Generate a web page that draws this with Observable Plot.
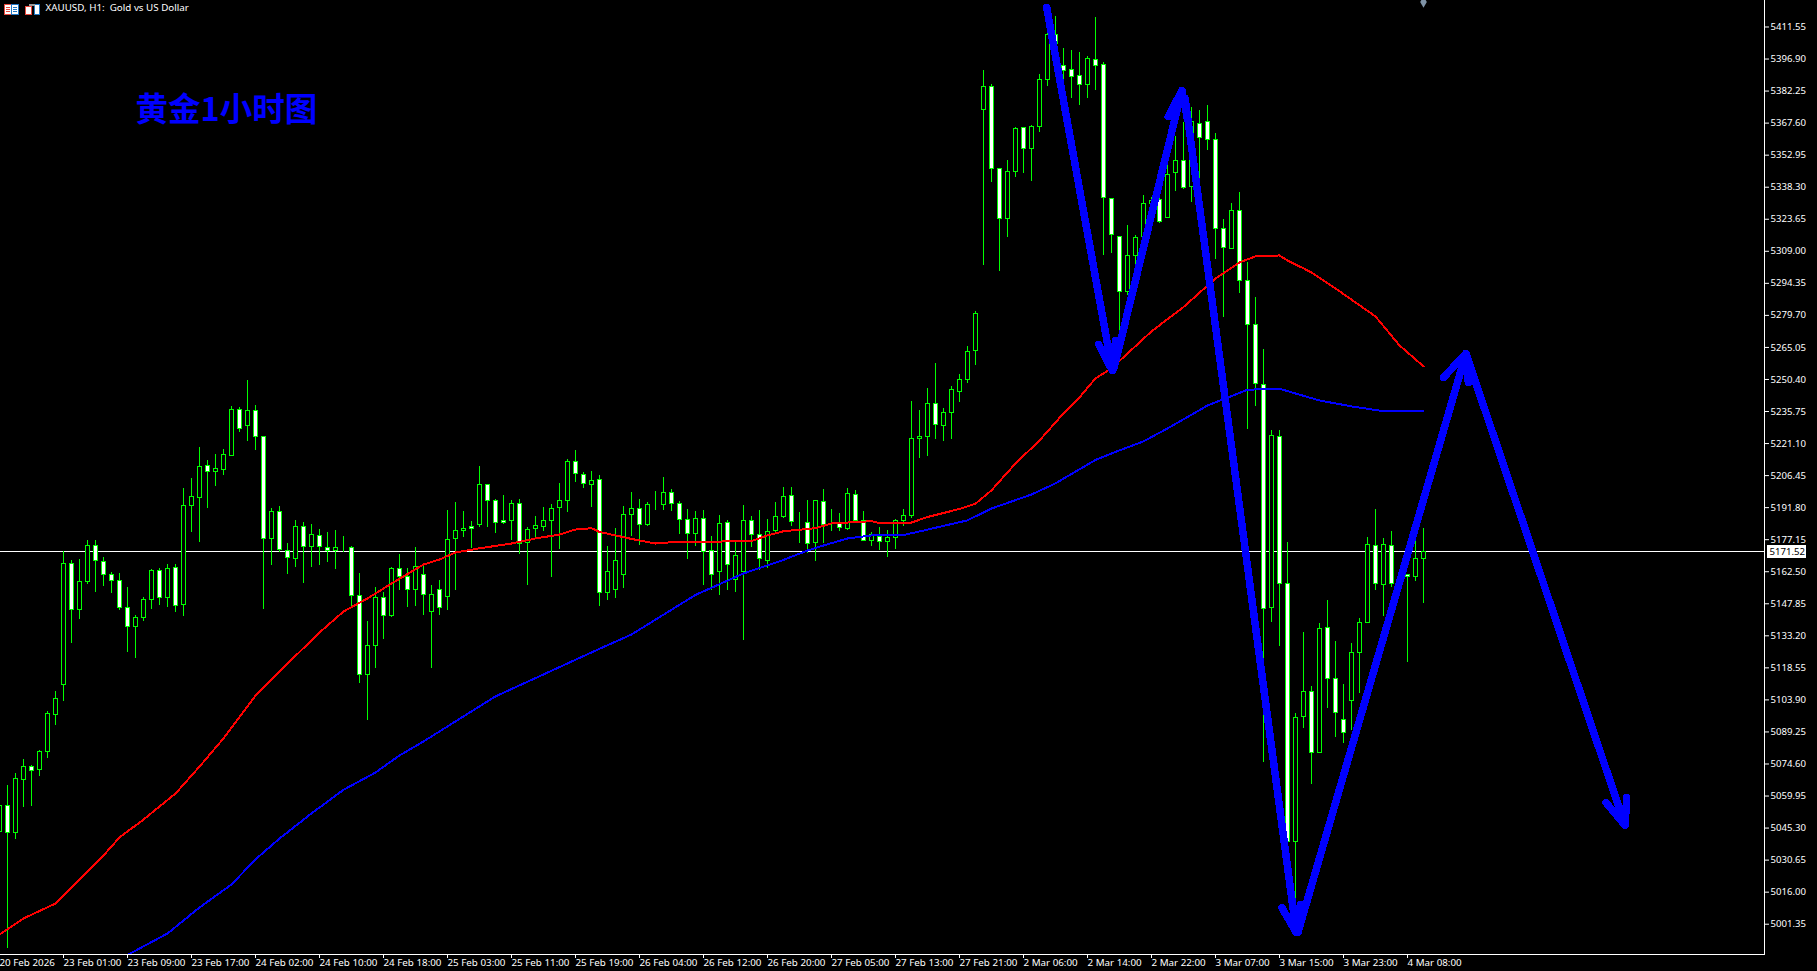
<!DOCTYPE html>
<html lang="zh">
<head>
<meta charset="utf-8">
<title>XAUUSD H1</title>
<style>
html,body{margin:0;padding:0;background:#000;overflow:hidden}
svg{display:block}
</style>
<script src="https://cdn.jsdelivr.net/npm/d3@7"></script>
<script src="https://cdn.jsdelivr.net/npm/@observablehq/plot@0.6"></script>
</head>
<body>
<div id="chart"></div>
<script>
const opens = [5043.7,5055.2,5043.0,5067.4,5073.1,5072.0,5080.2,5096.9,5110.8,5166.1,5145.0,5157.8,5174.4,5167.1,5161.1,5158.4,5146.0,5137.2,5141.3,5149.7,5163.0,5150.4,5164.3,5147.2,5192.5,5196.3,5211.0,5208.0,5209.0,5215.4,5236.6,5229.1,5236.1,5224.2,5177.4,5189.9,5172.1,5168.3,5183.1,5173.8,5179.0,5173.5,5171.9,5173.4,5173.5,5151.5,5115.4,5128.7,5150.6,5142.3,5163.9,5160.3,5154.2,5160.8,5143.9,5154.0,5150.8,5177.4,5181.1,5183.1,5183.8,5202.3,5195.0,5185.8,5185.8,5193.6,5175.7,5182.2,5182.9,5185.8,5191.6,5195.0,5212.8,5206.8,5202.1,5204.5,5153.0,5154.0,5160.8,5188.5,5191.3,5183.8,5193.1,5193.1,5198.6,5193.6,5186.3,5179.9,5186.7,5172.1,5162.2,5184.9,5158.5,5162.2,5185.8,5179.4,5167.6,5181.0,5187.3,5197.2,5184.4,5184.9,5175.7,5194.5,5184.0,5184.4,5181.9,5197.7,5185.6,5176.6,5178.5,5176.2,5178.0,5185.8,5187.9,5223.3,5224.0,5239.3,5229.2,5235.2,5244.8,5250.3,5263.5,5373.7,5384.2,5346.7,5323.7,5345.4,5365.5,5355.7,5366.0,5387.4,5408.0,5393.8,5392.0,5389.2,5385.1,5396.6,5394.0,5333.0,5315.5,5290.5,5307.0,5315.5,5330.7,5332.6,5324.1,5345.0,5350.5,5338.3,5367.0,5367.9,5360.1,5319.3,5310.0,5327.5,5295.5,5275.4,5247.8,5145.9,5224.2,5156.8,5039.0,5096.0,5107.6,5079.6,5136.8,5113.6,5094.8,5103.3,5125.3,5139.1,5174.3,5156.5,5174.3,5157.2,5160.8,5160.0,5168.3];
const highs = [5064.8,5064.8,5070.2,5076.5,5073.9,5080.8,5098.6,5107.8,5171.9,5167.5,5168.1,5176.8,5176.8,5169.0,5162.0,5161.7,5155.3,5142.5,5150.6,5163.4,5164.0,5165.8,5165.8,5200.6,5205.2,5219.3,5213.4,5216.1,5218.4,5238.1,5237.6,5250.0,5238.5,5224.3,5191.4,5192.4,5175.4,5186.0,5185.0,5184.1,5181.8,5180.5,5181.4,5178.6,5174.1,5161.7,5139.8,5155.3,5153.0,5164.4,5170.4,5164.0,5173.6,5165.4,5156.2,5158.5,5190.5,5194.2,5190.1,5185.5,5210.6,5202.4,5195.5,5197.4,5195.1,5195.5,5182.7,5187.8,5191.9,5193.2,5202.9,5213.8,5218.0,5207.9,5208.3,5206.5,5174.1,5182.3,5192.3,5198.7,5195.5,5194.2,5199.2,5205.6,5200.1,5194.6,5191.0,5190.1,5190.5,5178.6,5188.2,5186.0,5175.9,5192.8,5187.8,5190.5,5186.4,5194.2,5201.0,5201.0,5189.6,5195.1,5195.1,5200.0,5190.8,5189.0,5200.4,5199.5,5189.9,5180.4,5182.6,5181.2,5186.4,5190.8,5240.4,5236.2,5246.1,5257.6,5237.0,5247.1,5252.5,5265.3,5281.3,5391.7,5385.1,5346.9,5350.5,5365.6,5365.6,5366.5,5389.7,5409.2,5416.4,5401.6,5400.7,5399.8,5397.9,5415.8,5395.3,5333.1,5315.8,5320.8,5316.2,5334.5,5333.6,5336.8,5351.0,5361.5,5367.9,5374.8,5373.4,5375.7,5362.9,5323.4,5330.7,5335.7,5303.7,5287.9,5264.0,5227.1,5227.1,5175.9,5097.6,5134.7,5109.8,5138.7,5149.3,5130.6,5111.0,5129.7,5141.2,5178.2,5191.0,5177.7,5180.9,5163.1,5160.8,5176.4,5182.3];
const lows = [5039.6,4990.2,5040.1,5054.9,5055.3,5069.0,5077.3,5092.4,5103.3,5129.9,5140.6,5156.7,5153.2,5155.9,5152.7,5145.0,5125.7,5123.0,5139.9,5145.4,5147.1,5146.3,5144.0,5142.2,5180.5,5176.0,5191.4,5201.5,5206.5,5215.2,5226.3,5222.1,5218.0,5145.4,5165.4,5171.3,5161.4,5164.5,5157.2,5164.5,5165.4,5166.8,5163.6,5171.3,5146.6,5111.6,5094.6,5118.4,5131.5,5141.7,5153.9,5146.3,5146.8,5142.5,5118.3,5142.5,5144.8,5154.0,5178.3,5173.2,5182.9,5182.9,5180.0,5184.2,5176.8,5170.5,5156.2,5177.7,5180.9,5159.9,5172.7,5189.6,5203.4,5200.7,5191.9,5146.6,5149.4,5150.3,5154.8,5178.6,5174.5,5183.3,5190.5,5190.5,5190.1,5179.6,5168.1,5174.1,5156.2,5154.0,5151.6,5154.0,5153.0,5131.1,5173.7,5163.1,5164.0,5180.6,5186.9,5183.3,5175.3,5170.7,5167.3,5175.3,5181.0,5181.0,5181.5,5185.6,5176.2,5174.0,5172.2,5169.2,5172.7,5183.4,5187.0,5214.4,5215.3,5222.8,5222.2,5222.8,5240.0,5248.4,5257.0,5302.7,5340.6,5299.9,5315.5,5342.9,5344.7,5341.1,5363.5,5384.5,5401.4,5386.3,5379.0,5375.8,5379.0,5382.7,5307.1,5308.1,5261.4,5288.8,5289.7,5314.8,5320.8,5321.7,5323.9,5336.4,5337.1,5331.5,5341.4,5355.1,5305.3,5278.9,5309.8,5289.9,5227.4,5238.2,5075.4,5139.1,5128.1,5034.7,5008.1,5090.6,5065.4,5079.6,5100.0,5086.5,5084.0,5089.7,5106.6,5138.9,5153.9,5142.0,5155.1,5152.2,5121.1,5158.2,5148.1];
const closes = [5055.2,5043.0,5067.8,5073.3,5071.5,5080.2,5097.6,5104.4,5166.1,5145.1,5157.9,5174.4,5167.5,5160.9,5158.4,5145.9,5137.4,5141.5,5149.7,5163.0,5150.4,5163.9,5146.8,5192.7,5196.8,5210.5,5208.0,5209.6,5216.0,5236.6,5227.7,5236.1,5224.0,5177.4,5189.9,5172.4,5168.7,5183.1,5173.8,5179.4,5173.8,5171.9,5173.5,5173.4,5151.3,5115.4,5128.7,5150.6,5142.4,5163.9,5160.0,5154.2,5164.7,5151.7,5151.7,5145.7,5177.1,5181.2,5182.2,5182.2,5202.3,5195.0,5184.9,5184.7,5193.6,5175.3,5181.7,5183.5,5185.8,5191.3,5195.0,5212.8,5207.1,5202.5,5204.1,5152.6,5162.2,5167.6,5188.5,5191.3,5184.0,5193.1,5193.1,5198.6,5193.6,5186.3,5179.9,5186.7,5171.6,5160.8,5184.4,5165.4,5169.9,5185.8,5179.2,5168.4,5180.8,5187.6,5196.8,5185.3,5184.4,5175.3,5195.0,5184.0,5184.0,5182.6,5198.1,5185.6,5176.6,5179.4,5176.2,5178.0,5185.8,5188.1,5223.3,5224.2,5239.3,5229.7,5235.2,5245.7,5250.3,5263.1,5280.4,5384.2,5346.5,5323.7,5345.4,5365.0,5355.7,5366.0,5387.4,5408.0,5403.6,5391.5,5388.8,5385.1,5397.0,5393.8,5333.5,5316.6,5290.5,5307.0,5315.2,5330.7,5331.9,5322.5,5344.1,5350.5,5338.0,5367.9,5361.0,5359.7,5319.3,5310.6,5327.5,5295.5,5275.4,5248.4,5145.6,5224.6,5156.8,5039.0,5095.6,5107.6,5079.6,5136.5,5113.6,5097.9,5088.8,5125.3,5139.1,5174.8,5156.8,5174.8,5156.8,5159.6,5160.2,5168.5,5171.52];

const redIndex = [0,3,7,10,13,15,18,22,25,28,32,35,40,43,46,49,53,55,57,60,64,67,70,72,74,75,79,82,84,94,96,98,102,104,109,110,114,116,120,122,124,127,130,133,135,137,139,144,148,152,155,157,160,161,163,164,167,172,175,178];
const redValue = [4996.6,5004.0,5010.8,5021.8,5032.8,5041.0,5049.2,5061.1,5073.4,5086.3,5105.9,5116.9,5134.7,5144.3,5150.3,5157.1,5165.8,5168.1,5171.3,5173.2,5175.4,5177.7,5179.5,5181.8,5182.4,5180.7,5177.5,5175.4,5176.0,5176.5,5179.1,5181.0,5182.4,5184.6,5185.6,5184.7,5185.0,5187.5,5191.2,5193.6,5199.7,5212.0,5222.5,5234.9,5242.2,5250.9,5255.5,5272.4,5283.5,5296.6,5303.9,5306.7,5307.1,5304.8,5301.2,5299.3,5292.0,5279.2,5266.0,5256.4];
const blueIndex = [16,21,25,29,32,35,39,43,47,50,53,62,74,79,87,93,98,101,103,106,109,113,115,121,124,129,132,137,140,143,146,151,156,160,162,165,169,173,178];
const blueValue = [4987.3,4997.1,5009.0,5019.5,5031.0,5040.5,5052.0,5062.8,5070.7,5078.5,5084.9,5105.5,5125.6,5133.8,5151.9,5161.7,5167.9,5172.2,5174.5,5177.7,5179.1,5179.3,5180.9,5186.0,5191.4,5197.8,5202.9,5213.6,5218.0,5222.1,5228.0,5238.5,5245.7,5246.2,5244.0,5240.8,5238.1,5235.9,5235.9];

const arrowIndex = [[130.9,139.1],[139.3,147.8],[148.2,162.1],[162.3,183.3],[183.3,203.2]];
const arrowValue = [[5420.5,5254.5],[5255.4,5382.5],[5378.9,4997.5],[4997.5,5262.3],[5262.3,5046.5]];
const wingIndex = [[137.4,139.5],[146.1,148.5],[160.3,162.6],[180.5,183.6],[200.8,203.4]];
const wingValue = [[5266.4,5268.2],[5370.6,5369.3],[5008.9,5010.3],[5251.3,5249.0],[5057.0,5059.3]];

const priceTicks = [5411.55,5396.90,5382.25,5367.60,5352.95,5338.30,5323.65,5309.00,5294.35,5279.70,5265.05,5250.40,5235.75,5221.10,5206.45,5191.80,5177.15,5162.50,5147.85,5133.20,5118.55,5103.90,5089.25,5074.60,5059.95,5045.30,5030.65,5016.00,5001.35];
const timeTickIndex = [0,8,16,24,32,40,48,56,64,72,80,88,96,104,112,120,128,136,144,152,160,168,176];
const timeTickLabel = ["20 Feb 2026","23 Feb 01:00","23 Feb 09:00","23 Feb 17:00","24 Feb 02:00","24 Feb 10:00","24 Feb 18:00","25 Feb 03:00","25 Feb 11:00","25 Feb 19:00","26 Feb 04:00","26 Feb 12:00","26 Feb 20:00","27 Feb 05:00","27 Feb 13:00","27 Feb 21:00","2 Mar 06:00","2 Mar 14:00","2 Mar 22:00","3 Mar 07:00","3 Mar 15:00","3 Mar 23:00","4 Mar 08:00"];
const lastPrice = 5171.52;
const symbolTitle = "XAUUSD, H1:  Gold vs US Dollar";
const noteText = "黄金1小时图";

const candles = opens.map((o,i)=>({i,o,h:highs[i],l:lows[i],c:closes[i]}));
const redLine = redIndex.map((x,k)=>({x,y:redValue[k]}));
const blueLine = blueIndex.map((x,k)=>({x,y:blueValue[k]}));
const arrowPaths = arrowIndex.flatMap((xs,a)=>[
  {a,s:0,x:xs[0],y:arrowValue[a][0]},
  {a,s:0,x:xs[1],y:arrowValue[a][1]},
  {a,s:1,x:wingIndex[a][0],y:wingValue[a][0]},
  {a,s:1,x:xs[1],y:arrowValue[a][1]},
  {a,s:1,x:wingIndex[a][1],y:wingValue[a][1]}
]);

const iconMark = () => {
  const g = d3.create("svg:g").attr("shape-rendering","crispEdges");
  const r = (x,y,w,h,f,s) => g.append("rect").attr("x",x).attr("y",y).attr("width",w).attr("height",h).attr("fill",f).attr("stroke",s||"none");
  r(4.5,4.5,14,10,"#fff","#e8483c"); r(11.5,4.5,7,10,"#fff","#1f77c4");
  r(6,7,4,1,"#e8483c"); r(6,9,4,1,"#e8483c"); r(6,11,4,1,"#e8483c");
  r(13,7,4,1,"#1f77c4"); r(13,9,4,1,"#1f77c4"); r(13,11,4,1,"#1f77c4");
  r(25.5,6.5,6,8,"#fff","#e8483c"); r(34.5,4.5,5,10,"#fff","#1f77c4"); r(29,4,6,2,"#999");
  return g.node();
};

const plot = Plot.plot({
  width:1817,height:971,marginLeft:0,marginRight:53,marginTop:0,marginBottom:17,
  style:{background:"#000",color:"#fff",fontFamily:"Noto Sans"},
  x:{type:"linear",domain:[0.125,220.625],axis:null},
  y:{type:"linear",domain:[4987.5,5423.66],axis:null},
  marks:[
    Plot.ruleY([lastPrice],{stroke:"#fff",strokeWidth:1,shapeRendering:"crispEdges"}),
    Plot.ruleX(candles,{x:"i",y1:"l",y2:"h",stroke:"#00ff00",strokeWidth:1,clip:true,shapeRendering:"crispEdges"}),
    Plot.rect(candles,{x1:d=>d.i-0.25,x2:d=>d.i+0.25,y1:"o",y2:"c",fill:d=>d.c<d.o?"#fff":"#000",stroke:"#00ff00",strokeWidth:1,clip:true,shapeRendering:"crispEdges"}),
    Plot.line(redLine,{x:"x",y:"y",stroke:"#ff0000",strokeWidth:2,clip:true,shapeRendering:"crispEdges"}),
    Plot.line(blueLine,{x:"x",y:"y",stroke:"#0000ff",strokeWidth:2,clip:true,shapeRendering:"crispEdges"}),
    Plot.line(arrowPaths,{x:"x",y:"y",z:d=>d.a+"-"+d.s,stroke:"#0000ff",strokeWidth:7.5,strokeLinecap:"round",strokeLinejoin:"round",shapeRendering:"crispEdges"}),
    Plot.dot([178],{x:d=>d,y:()=>5423,symbol:"diamond",r:3.5,fill:"#7f93a6"}),
    Plot.text([noteText],{x:()=>17,y:()=>5373.3,text:d=>d,textAnchor:"start",fill:"#0000ff",fontSize:32.5,fontWeight:"bold",fontFamily:"Noto Sans CJK SC"}),
    Plot.text([symbolTitle],{frameAnchor:"top-left",dx:45,dy:4,text:d=>d,textAnchor:"start",lineAnchor:"top",fill:"#fff",fontSize:9.8,fontFamily:"Noto Sans"}),
    Plot.frame({anchor:"right",stroke:"#fff"}),
    Plot.frame({anchor:"bottom",stroke:"#fff"}),
    Plot.axisY({anchor:"right",ticks:priceTicks,tickFormat:d=>d.toFixed(2),tickSize:4,tickPadding:2,stroke:"#fff",fill:"#fff",fontSize:9.6,label:null}),
    Plot.axisX({anchor:"bottom",ticks:timeTickIndex,tickFormat:d=>timeTickLabel[timeTickIndex.indexOf(d)],tickSize:4,tickPadding:1,textAnchor:"start",stroke:"#fff",fill:"#fff",fontSize:9.8,label:null}),
    Plot.rect([lastPrice],{x1:()=>220.875,x2:()=>225.875,y1:d=>d-3,y2:d=>d+3,fill:"#fff",stroke:"#000",shapeRendering:"crispEdges"}),
    Plot.text([lastPrice],{x:()=>221.25,y:d=>d,text:d=>d.toFixed(2),textAnchor:"start",fill:"#000",fontSize:9.6,fontFamily:"Noto Sans"}),
    iconMark
  ]
});
document.getElementById("chart").append(plot);
</script>
</body>
</html>
